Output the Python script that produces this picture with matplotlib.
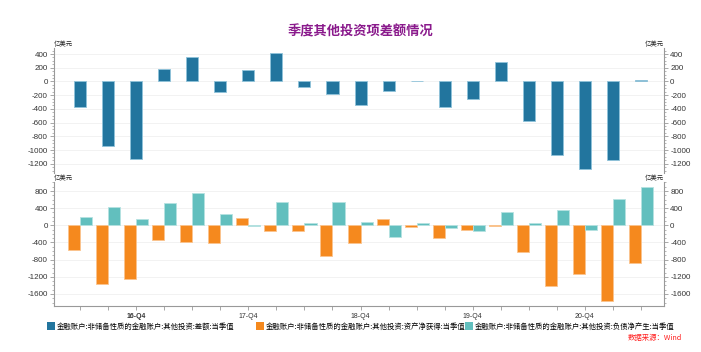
import matplotlib
matplotlib.use("Agg")
import matplotlib.pyplot as plt
import numpy as np
from matplotlib.ticker import MultipleLocator, FixedLocator, FixedFormatter
from matplotlib.patches import Patch

plt.rcParams['font.family'] = ['Noto Sans CJK SC', 'DejaVu Sans']
plt.rcParams['axes.unicode_minus'] = False

quarters = ["16-Q2", "16-Q3", "16-Q4", "17-Q1", "17-Q2", "17-Q3", "17-Q4",
            "18-Q1", "18-Q2", "18-Q3", "18-Q4", "19-Q1", "19-Q2", "19-Q3",
            "19-Q4", "20-Q1", "20-Q2", "20-Q3", "20-Q4", "21-Q1", "21-Q2"]
balance = [-375, -945, -1130, 175, 350, -155, 160, 410, -85, -180, -340,
           -135, 10, -370, -255, 280, -570, -1075, -1275, -1145, 15]
assets = [-565, -1370, -1260, -340, -380, -410, 160, -130, -130, -705, -410,
          155, -40, -300, -105, -25, -610, -1420, -1140, -1760, -875]
liabilities = [200, 430, 145, 525, 745, 265, -10, 555, 60, 540, 75,
               -270, 50, -55, -130, 315, 45, 365, -110, 610, 905]
label_ticks = ["16-Q4", "17-Q4", "18-Q4", "19-Q4", "20-Q4"]
legend_labels = ["金融账户:非储备性质的金融账户:其他投资:差额:当季值",
                 "金融账户:非储备性质的金融账户:其他投资:资产净获得:当季值",
                 "金融账户:非储备性质的金融账户:其他投资:负债净产生:当季值"]
title = "季度其他投资项差额情况"
unit = "亿美元"

c_bal = "#22759E"
c_ast = "#F5891E"
c_lia = "#62BFBE"

W, H = 701, 352
fig = plt.figure(figsize=(W / 100, H / 100), dpi=100)

def frac_rect(x0, y0, x1, y1):
    return [x0 / W, 1 - y1 / H, (x1 - x0) / W, (y1 - y0) / H]

ax1 = fig.add_axes(frac_rect(54, 48, 664, 173))
ax2 = fig.add_axes(frac_rect(54, 182, 664, 306))

x = np.arange(len(quarters))
bw = 0.43
ax1.bar(x, balance, width=bw, color=c_bal, edgecolor="#8FC3DA", linewidth=0.6, zorder=3)
ax2.bar(x - bw / 2, assets, width=bw, color=c_ast, edgecolor="#FBC48E", linewidth=0.6, zorder=3)
ax2.bar(x + bw / 2, liabilities, width=bw, color=c_lia, edgecolor="#B5E2E1", linewidth=0.6, zorder=3)

xl = (-0.93, 20.82)
tick_family = ['Liberation Sans', 'DejaVu Sans']

for ax, ylim, major, minor in [(ax1, (-1335, 488), 200, 50), (ax2, (-1880, 1010), 400, 100)]:
    ax.set_xlim(*xl)
    ax.set_ylim(*ylim)
    ax.yaxis.set_major_locator(MultipleLocator(major))
    ax.yaxis.set_minor_locator(MultipleLocator(minor))
    ax.grid(axis='y', color="#F0F0F0", linewidth=0.6, zorder=0)
    ax.spines['top'].set_visible(False)
    for s in ['left', 'right', 'bottom']:
        ax.spines[s].set_color("#999999")
        ax.spines[s].set_linewidth(0.8)
    ax.tick_params(axis='y', which='both', left=True, right=True, labelleft=True,
                   labelright=True, colors="#999999", labelcolor="#333333",
                   pad=1.5)
    ax.tick_params(axis='y', which='major', length=3, width=0.6)
    ax.tick_params(axis='y', which='minor', length=1.5, width=0.5)
    for lab in ax.get_yticklabels():
        lab.set_fontfamily(tick_family)
        lab.set_fontsize(5.8)
    ax.text(0, 1.0, unit, transform=ax.transAxes, ha='left', va='bottom',
            fontsize=4.6, color="#222222")
    ax.text(1, 1.0, unit, transform=ax.transAxes, ha='right', va='bottom',
            fontsize=4.6, color="#222222")

ax1.spines['bottom'].set_visible(False)
ax1.tick_params(axis='x', which='both', bottom=False, labelbottom=False)

ax2.xaxis.set_major_locator(FixedLocator(x))
ax2.xaxis.set_major_formatter(FixedFormatter([q if q in label_ticks else "" for q in quarters]))
ax2.tick_params(axis='x', which='major', length=3, width=0.6, colors="#999999",
                labelcolor="#333333", pad=2)
for lab in ax2.get_xticklabels():
    lab.set_fontfamily(tick_family)
    lab.set_fontsize(5.0)
    if lab.get_text() == label_ticks[0]:
        lab.set_fontweight('bold')

fig.text(0.514, 1 - 31 / H, title, ha='center', va='center', fontsize=9.5,
         fontweight='bold', color="#8A1A8C")

for lbl, col, xp in zip(legend_labels, [c_bal, c_ast, c_lia], [47, 256, 465]):
    fig.legend(handles=[Patch(facecolor=col, edgecolor='none')], labels=[lbl],
               loc='center left', bbox_to_anchor=(xp / W, 1 - 326 / H),
               frameon=False, fontsize=5.3, handlelength=1.1, handleheight=1.5,
               handletextpad=0.2, borderpad=0, borderaxespad=0)

fig.text(682 / W, 1 - 338 / H, "数据来源：Wind", ha='right', va='center',
         fontsize=5.3, color="#FF2020", style='italic')

fig.savefig("out.png", dpi=100)
